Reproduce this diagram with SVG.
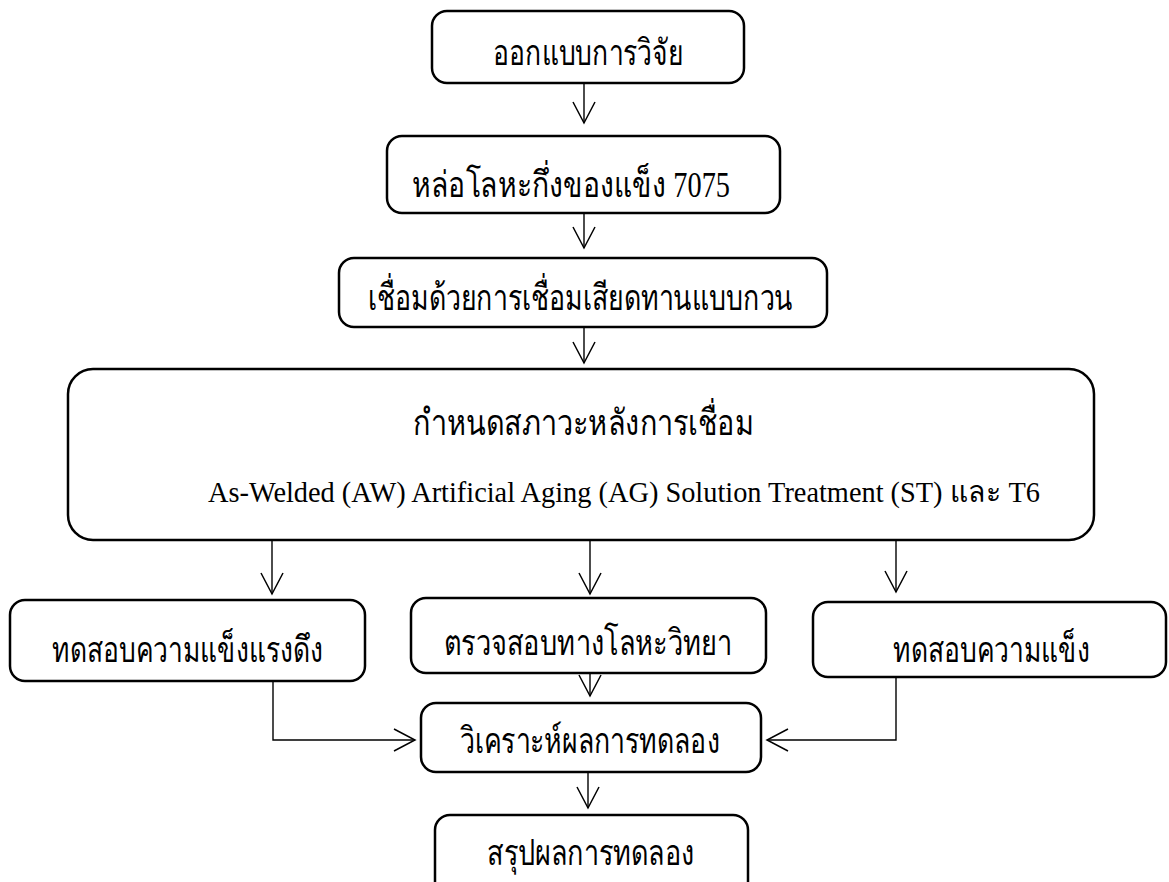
<svg xmlns="http://www.w3.org/2000/svg" width="1169" height="882" viewBox="0 0 1169 882">
<defs>
<style>
.box{fill:#fff;stroke:#000;stroke-width:2.5}
.c{fill:none;stroke:#000;stroke-width:1.4}
.t{font-family:'Liberation Serif','Noto Sans',serif;font-size:36px;fill:#000}
.l{font-family:'Liberation Serif','Noto Sans',serif;font-size:29px;fill:#000}
</style>
<marker id="ah" markerUnits="userSpaceOnUse" markerWidth="26" markerHeight="26" viewBox="0 0 26 26" refX="23" refY="13" orient="auto">
<path d="M2,2 L23,13 L2,24" fill="none" stroke="#000" stroke-width="1.5"/>
</marker>
</defs>
<rect width="1169" height="882" fill="#fff"/>
<g id="connectors">
<path class="c" d="M584,84 V123" marker-end="url(#ah)"/>
<path class="c" d="M584,214 V248" marker-end="url(#ah)"/>
<path class="c" d="M584,328 V363" marker-end="url(#ah)"/>
<path class="c" d="M272,541 V594" marker-end="url(#ah)"/>
<path class="c" d="M590,541 V594" marker-end="url(#ah)"/>
<path class="c" d="M896,541 V592" marker-end="url(#ah)"/>
<path class="c" d="M273,682 V740 H415" marker-end="url(#ah)"/>
<path class="c" d="M590,674 V696" marker-end="url(#ah)"/>
<path class="c" d="M896,678 V740 H767" marker-end="url(#ah)"/>
<path class="c" d="M588,773 V808" marker-end="url(#ah)"/>
<path d="M896,676 H1029" fill="none" stroke="#000" stroke-width="2.5"/>
</g>
<g id="n1"><rect class="box" x="432" y="11" width="312" height="72" rx="15"/><text class="t" x="493" y="65" textLength="190" lengthAdjust="spacingAndGlyphs">ออกแบบการวิจัย</text></g>
<g id="n2"><rect class="box" x="387" y="136" width="393" height="77" rx="15"/><text class="t" x="412" y="197" textLength="318" lengthAdjust="spacingAndGlyphs">หล่อโลหะกึ่งของแข็ง 7075</text></g>
<g id="n3"><rect class="box" x="339" y="258" width="488" height="69" rx="15"/><text class="t" x="368" y="310" textLength="425" lengthAdjust="spacingAndGlyphs">เชื่อมด้วยการเชื่อมเสียดทานแบบกวน</text></g>
<g id="n4"><rect class="box" x="68" y="369" width="1026" height="171" rx="25"/><text class="t" x="413" y="435" textLength="341" lengthAdjust="spacingAndGlyphs">กำหนดสภาวะหลังการเชื่อม</text><text class="l" x="208" y="502" textLength="832" lengthAdjust="spacingAndGlyphs">As-Welded (AW) Artificial Aging (AG) Solution Treatment (ST) และ T6</text></g>
<g id="n5"><rect class="box" x="10" y="600" width="355" height="81" rx="15"/><text class="t" x="52" y="662" textLength="271" lengthAdjust="spacingAndGlyphs">ทดสอบความแข็งแรงดึง</text></g>
<g id="n6"><rect class="box" x="411" y="598" width="355" height="75" rx="15"/><text class="t" x="444" y="655" textLength="288" lengthAdjust="spacingAndGlyphs">ตรวจสอบทางโลหะวิทยา</text></g>
<g id="n7"><rect class="box" x="813" y="602" width="353" height="75" rx="15"/><text class="t" x="893" y="662" textLength="197" lengthAdjust="spacingAndGlyphs">ทดสอบความแข็ง</text></g>
<g id="n8"><rect class="box" x="421" y="703" width="340" height="69" rx="15"/><text class="t" x="460" y="753" textLength="260" lengthAdjust="spacingAndGlyphs">วิเคราะห์ผลการทดลอง</text></g>
<g id="n9"><rect class="box" x="435" y="815" width="313" height="90" rx="15"/><text class="t" x="487" y="865" textLength="208" lengthAdjust="spacingAndGlyphs">สรุปผลการทดลอง</text></g>
</svg>
